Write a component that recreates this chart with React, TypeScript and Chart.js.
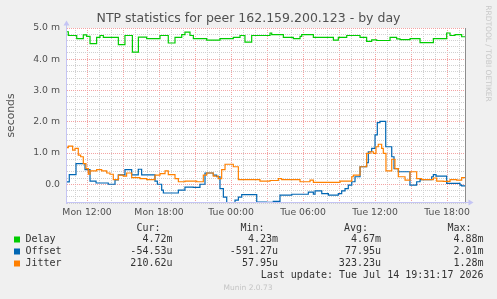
import { useEffect, useRef } from 'react';
import { Chart, registerables } from 'chart.js';

Chart.register(...registerables);

// Time axis: hours counted from Mon 00:00
const startHour = 10.33;
const endHour = 43.58;

const tickHours = [12, 18, 24, 30, 36, 42];
const tickLabels = ['Mon 12:00', 'Mon 18:00', 'Tue 00:00', 'Tue 06:00', 'Tue 12:00', 'Tue 18:00'];

// Values in milliseconds; each value holds until the next hour mark
const delayHours = [10.33, 10.44, 11.14, 11.69, 11.97, 12.25, 12.8, 13.08, 13.36, 14.61, 15.16, 15.78, 16.28, 16.97, 18.08, 18.77, 19.33, 19.89, 20.16, 20.58, 20.86, 21.97, 23.08, 24.19, 24.75, 25.16, 25.72, 27.25, 27.39, 28.36, 29.19, 29.75, 29.89, 30.86, 32.53, 32.94, 33.64, 34.75, 35.3, 35.72, 36.14, 37.25, 37.8, 38.08, 38.92, 39.75, 40.86, 41.97, 42.25, 42.66, 43.22];
const delayValues = [4.88, 4.76, 4.66, 4.78, 4.73, 4.5, 4.7, 4.76, 4.7, 4.47, 4.76, 4.23, 4.71, 4.66, 4.76, 4.52, 4.7, 4.79, 4.87, 4.76, 4.66, 4.61, 4.66, 4.7, 4.76, 4.55, 4.76, 4.84, 4.79, 4.7, 4.66, 4.73, 4.79, 4.7, 4.61, 4.7, 4.76, 4.7, 4.57, 4.62, 4.6, 4.7, 4.65, 4.63, 4.66, 4.53, 4.66, 4.84, 4.76, 4.79, 4.72];

const offsetHours = [10.33, 10.52, 11.08, 11.83, 12.25, 12.75, 13.77, 14.33, 14.61, 15.16, 15.72, 16.27, 16.55, 17.66, 17.86, 18.22, 18.36, 19.61, 20.16, 20.86, 21.41, 21.83, 22.52, 22.8, 23.08, 23.36, 23.64, 24.33, 24.61, 24.89, 26.14, 26.97, 27.52, 28.08, 29.06, 30.44, 30.86, 31.0, 31.56, 32.11, 32.94, 33.22, 33.5, 33.77, 34.06, 34.33, 34.75, 35.3, 35.44, 35.72, 36.0, 36.19, 36.41, 36.89, 37.39, 37.58, 37.94, 38.91, 39.47, 39.75, 40.72, 40.86, 41.08, 41.97, 43.08, 43.22];
const offsetValues = [0.075, 0.31, 0.66, 0.47, 0.1, 0.04, 0.0, 0.14, 0.3, 0.47, 0.3, 0.48, 0.3, 0.1, 0.0, -0.19, -0.28, -0.19, -0.09, -0.1, 0.0, 0.36, 0.29, 0.24, -0.14, -0.41, -0.59, -0.51, -0.41, -0.33, -0.57, -0.58, -0.55, -0.35, -0.32, -0.25, -0.32, -0.21, -0.3, -0.35, -0.3, -0.21, -0.14, -0.03, 0.08, 0.24, 0.56, 0.69, 1.04, 1.15, 1.58, 1.97, 2.01, 1.2, 0.88, 0.5, 0.4, -0.03, 0.08, 0.15, 0.24, 0.31, 0.26, 0.03, -0.03, -0.055];

const jitterHours = [10.33, 10.44, 10.8, 11.0, 11.27, 11.47, 11.69, 11.91, 12.11, 12.25, 12.8, 13.22, 13.64, 13.91, 14.19, 14.61, 15.02, 15.3, 15.72, 16.41, 16.97, 17.66, 18.08, 18.5, 18.77, 19.33, 19.61, 20.16, 21.14, 21.69, 21.97, 22.52, 22.94, 23.22, 23.5, 24.19, 24.61, 26.41, 27.25, 27.94, 28.22, 29.75, 30.58, 30.86, 33.08, 34.06, 34.19, 34.75, 35.3, 35.58, 35.86, 36.08, 36.27, 36.55, 36.69, 36.91, 37.39, 37.66, 37.94, 38.5, 38.91, 39.47, 39.89, 40.86, 41.14, 41.69, 42.25, 42.8, 43.22];
const jitterValues = [1.17, 1.22, 1.09, 1.15, 0.93, 0.88, 0.66, 0.5, 0.32, 0.43, 0.47, 0.43, 0.36, 0.32, 0.15, 0.29, 0.26, 0.36, 0.21, 0.18, 0.15, 0.29, 0.34, 0.43, 0.31, 0.18, 0.08, 0.1, 0.08, 0.29, 0.36, 0.26, 0.18, 0.47, 0.64, 0.56, 0.15, 0.1, 0.12, 0.18, 0.15, 0.08, 0.13, 0.058, 0.1, 0.24, 0.29, 0.56, 0.99, 1.04, 0.99, 1.2, 1.28, 1.15, 0.99, 0.43, 0.8, 0.5, 0.24, 0.13, 0.4, 0.18, 0.15, 0.2, 0.1, 0.09, 0.15, 0.13, 0.21];

const seriesNames = ['Delay', 'Offset', 'Jitter'];
const seriesColors = ['#00cc00', '#0066b3', '#ff8000'];
const statHeaders = ['Cur:', 'Min:', 'Avg:', 'Max:'];
const curValues = ['4.72m', '-54.53u', '210.62u'];
const minValues = ['4.23m', '-591.27u', '57.95u'];
const avgValues = ['4.67m', '77.95u', '323.23u'];
const maxValues = ['4.88m', '2.01m', '1.28m'];
const lastUpdate = 'Last update: Tue Jul 14 19:31:17 2026';

const SANS = '"DejaVu Sans", "Noto Sans", sans-serif';
const MONO = '"DejaVu Sans Mono", "Liberation Mono", monospace';
const MINOR = '#d0d0d0';
const MAJOR = '#f3a3a3';
const AXIS = '#c4c4f4';
const TEXT = '#505050';

function toPoints(hours: number[], values: number[]) {
  const pts = hours.map((h, i) => ({ x: h, y: values[i] }));
  pts.push({ x: endHour, y: values[values.length - 1] });
  return pts;
}

const isWhole = (v: number) => Math.abs(v - Math.round(v)) < 1e-6;

const chromePlugin = {
  id: 'muninChrome',
  beforeDraw(chart: any) {
    const { ctx, chartArea: a } = chart;
    ctx.save();
    ctx.fillStyle = '#f0f0f0';
    ctx.fillRect(0, 0, chart.width, chart.height);
    ctx.fillStyle = '#ffffff';
    ctx.fillRect(a.left, a.top, a.right - a.left, a.bottom - a.top);
    ctx.restore();
  },
  afterDraw(chart: any) {
    const { ctx, chartArea: a } = chart;
    ctx.save();

    // right-hand edge marker
    ctx.strokeStyle = '#8c8c8c';
    ctx.lineWidth = 1;
    ctx.beginPath();
    ctx.moveTo(a.right - 0.5, a.top);
    ctx.lineTo(a.right - 0.5, a.bottom);
    ctx.stroke();

    // axes with arrow heads
    ctx.strokeStyle = AXIS;
    ctx.fillStyle = AXIS;
    ctx.beginPath();
    ctx.moveTo(a.left - 0.5, a.bottom + 1);
    ctx.lineTo(a.left - 0.5, a.top - 4);
    ctx.moveTo(a.left - 1, a.bottom - 0.5);
    ctx.lineTo(a.right + 4, a.bottom - 0.5);
    ctx.stroke();
    ctx.beginPath();
    ctx.moveTo(a.left - 0.5, a.top - 7.5);
    ctx.lineTo(a.left - 3.5, a.top - 2.5);
    ctx.lineTo(a.left + 2.5, a.top - 2.5);
    ctx.closePath();
    ctx.fill();
    ctx.beginPath();
    ctx.moveTo(a.right + 7.5, a.bottom - 0.5);
    ctx.lineTo(a.right + 2.5, a.bottom - 3.5);
    ctx.lineTo(a.right + 2.5, a.bottom + 2.5);
    ctx.closePath();
    ctx.fill();

    // title
    ctx.fillStyle = TEXT;
    ctx.textAlign = 'center';
    ctx.textBaseline = 'middle';
    ctx.font = `12.5px ${SANS}`;
    ctx.fillText('NTP statistics for peer 162.159.200.123 - by day', 248.5, 19);

    // vertical axis title
    ctx.save();
    ctx.translate(11, 115.5);
    ctx.rotate(-Math.PI / 2);
    ctx.font = `10.8px ${SANS}`;
    ctx.fillText('seconds', 0, 0);
    ctx.restore();

    // side credit
    ctx.save();
    ctx.translate(488, 53.5);
    ctx.rotate(Math.PI / 2);
    ctx.fillStyle = '#c8c8c8';
    ctx.font = `7.5px ${SANS}`;
    ctx.fillText('RRDTOOL / TOBI OETIKER', 0, 0);
    ctx.restore();

    // legend table
    ctx.font = `10px ${MONO}`;
    ctx.fillStyle = '#333333';
    ctx.textAlign = 'right';
    const headerRight = [160.5, 264.5, 368, 471.5];
    const valueRight = [172.5, 278, 381, 483.5];
    statHeaders.forEach((h, i) => ctx.fillText(h, headerRight[i], 228.5));
    const rowsY = [239.5, 251.5, 263.5];
    const cols = [curValues, minValues, avgValues, maxValues];
    seriesNames.forEach((name, r) => {
      const y = rowsY[r];
      ctx.fillStyle = seriesColors[r];
      ctx.fillRect(14, y - 3, 6, 6);
      ctx.fillStyle = '#333333';
      ctx.textAlign = 'left';
      ctx.fillText(name, 25.5, y);
      ctx.textAlign = 'right';
      cols.forEach((col, c) => ctx.fillText(col[r], valueRight[c], y));
    });
    ctx.fillText(lastUpdate, 483.5, 275.5);

    ctx.textAlign = 'center';
    ctx.fillStyle = '#c4c4c4';
    ctx.font = `7.5px ${SANS}`;
    ctx.fillText('Munin 2.0.73', 248, 288);

    ctx.restore();
  },
};

export default function App() {
  const canvasRef = useRef<HTMLCanvasElement | null>(null);

  useEffect(() => {
    const canvas = canvasRef.current;
    if (!canvas) return;
    const datasets = [
      { label: 'Delay', hours: delayHours, values: delayValues, color: seriesColors[0], order: 2 },
      { label: 'Offset', hours: offsetHours, values: offsetValues, color: seriesColors[1], order: 1 },
      { label: 'Jitter', hours: jitterHours, values: jitterValues, color: seriesColors[2], order: 0 },
    ].map((s) => ({
      label: s.label,
      data: toPoints(s.hours, s.values),
      borderColor: s.color,
      borderWidth: 1.2,
      pointRadius: 0,
      stepped: true,
      tension: 0,
      fill: false,
      order: s.order,
    }));

    const chart = new Chart(canvas, {
      type: 'line',
      data: { datasets },
      plugins: [chromePlugin],
      options: {
        animation: false,
        responsive: false,
        devicePixelRatio: 1,
        layout: { padding: { left: 0, right: 31, top: 28, bottom: 0 } },
        plugins: {
          legend: { display: false },
          tooltip: { enabled: false },
          title: { display: false },
        },
        scales: {
          x: {
            type: 'linear',
            min: startHour,
            max: endHour,
            afterBuildTicks: (s: any) => {
              const t = [];
              for (let h = Math.ceil(startHour); h <= Math.floor(endHour); h++) t.push({ value: h });
              s.ticks = t;
            },
            afterFit: (s: any) => {
              s.height = 96;
            },
            ticks: {
              autoSkip: false,
              maxRotation: 0,
              minRotation: 0,
              padding: 4,
              color: TEXT,
              font: { family: SANS, size: 9.3 },
              callback: (v: any) => {
                const i = tickHours.indexOf(Number(v));
                return i >= 0 ? tickLabels[i] : '';
              },
            },
            grid: {
              drawTicks: false,
              lineWidth: 1,
              color: (c: any) => (c.tick && c.tick.value % 3 === 0 ? MAJOR : MINOR),
            },
            border: { display: false, dash: [1, 1] },
          },
          y: {
            type: 'linear',
            min: -0.6,
            max: 5,
            afterBuildTicks: (s: any) => {
              const t = [];
              for (let i = 0; i <= 28; i++) t.push({ value: Math.round((-0.6 + i * 0.2) * 10) / 10 });
              s.ticks = t;
            },
            afterFit: (s: any) => {
              s.width = 67;
            },
            ticks: {
              autoSkip: false,
              padding: 7,
              color: TEXT,
              font: { family: SANS, size: 9.3 },
              callback: (v: any) => {
                const n = Number(v);
                if (!isWhole(n)) return '';
                return n === 0 ? '0.0' : `${n.toFixed(1)} m`;
              },
            },
            grid: {
              drawTicks: false,
              lineWidth: 1,
              color: (c: any) => (c.tick && isWhole(c.tick.value) ? MAJOR : MINOR),
            },
            border: { display: false, dash: [1, 1] },
          },
        },
      },
    });
    return () => chart.destroy();
  }, []);

  return (
    <div style={{ position: 'fixed', left: 0, top: 0, width: 497, height: 299, background: '#f0f0f0' }}>
      <canvas ref={canvasRef} width={497} height={299} style={{ display: 'block', width: 497, height: 299 }} />
    </div>
  );
}
